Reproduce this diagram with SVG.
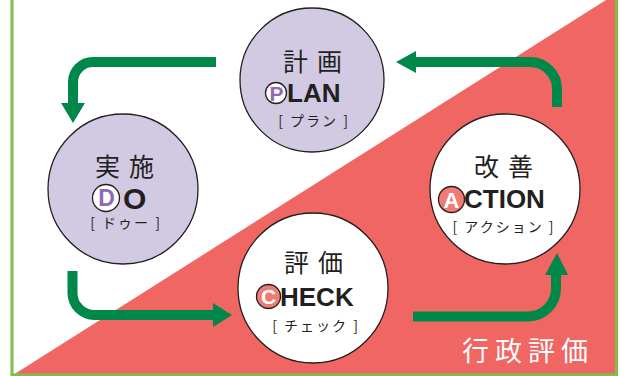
<svg xmlns="http://www.w3.org/2000/svg" width="625" height="376" viewBox="0 0 625 376">
<style>
.node{stroke:#231F20;stroke-width:1.3}
.lav{fill:#D2C9E3}
.wht{fill:#FFFFFF}
.jp{font-family:"Noto Sans CJK JP","Noto Sans",sans-serif;fill:#231F20;text-anchor:middle}
.kanji{font-size:25px;letter-spacing:9px}
.kana{font-size:14px;letter-spacing:2px}
.en{font-family:"Liberation Sans",Arial,sans-serif;font-weight:bold;fill:#231F20;font-size:26px}
.bl{font-family:"Liberation Sans",Arial,sans-serif;font-weight:900;text-anchor:middle}
.badge{stroke:#231F20;stroke-width:1.3}
.conn{fill:none;stroke:#00884A;stroke-width:10}
.head{fill:#00884A}
</style>
<rect x="0" y="0" width="625" height="376" fill="#FFFFFF"/>
<polygon points="606,0 617,0 617,375 13,375" fill="#F06663"/>
<g id="border" fill="none" stroke="#7DC04A" stroke-width="3">
<line x1="12" y1="0" x2="12" y2="375"/>
<line x1="10.5" y1="375" x2="618" y2="375"/>
<line x1="616.5" y1="0" x2="616.5" y2="376"/>
</g>
<g id="connectors">
<path class="conn" d="M216,62 H93 A20,20 0 0 0 73,82 V104"/>
<polygon class="head" points="61,103 85,103 73,123"/>
<path class="conn" d="M557,107 V89 A27,27 0 0 0 530,62 H415"/>
<polygon class="head" points="416,51 416,73 396,62"/>
<path class="conn" d="M72.5,271 V293 A22,22 0 0 0 94.5,315 H214"/>
<polygon class="head" points="213,303 213,327 232,315"/>
<path class="conn" d="M413,316.5 H528 A28,28 0 0 0 556,288.5 V274"/>
<polygon class="head" points="545,275 568,275 557,253"/>
</g>
<g id="plan">
<circle class="node lav" cx="312" cy="80" r="72"/>
<text class="jp kanji" x="317" y="71">計画</text>
<circle class="badge wht" cx="276" cy="93" r="10.5"/>
<text class="bl" x="276.5" y="100.5" style="font-size:21px;fill:#8E6BB5">P</text>
<text class="en" x="287" y="102">LAN</text>
<text class="jp kana" x="314" y="126">[ プラン ]</text>
</g>
<g id="do">
<circle class="node lav" cx="123" cy="189" r="75"/>
<text class="jp kanji" x="129" y="176">実施</text>
<circle class="badge wht" cx="106" cy="198" r="13.5"/>
<text class="bl" x="106.5" y="206" style="font-size:23px;fill:#8E6BB5">D</text>
<text class="en" x="123" y="209" style="font-size:30px">O</text>
<text class="jp kana" x="126" y="228">[ ドゥー ]</text>
</g>
<g id="check">
<circle class="node wht" cx="313" cy="288" r="75"/>
<text class="jp kanji" x="318" y="272">評価</text>
<circle class="badge" cx="268.5" cy="296.5" r="12" fill="#F07B72"/>
<text class="bl" x="268.5" y="304" style="font-size:21px;fill:#FFFFFF">C</text>
<text class="en" x="280" y="306">HECK</text>
<text class="jp kana" x="316" y="331">[ チェック ]</text>
</g>
<g id="action">
<circle class="node wht" cx="505" cy="189" r="75"/>
<text class="jp kanji" x="508" y="176">改善</text>
<circle class="badge" cx="451.5" cy="199.5" r="13" fill="#F07B72"/>
<text class="bl" x="451.5" y="207.5" style="font-size:22px;fill:#FFFFFF">A</text>
<text class="en" x="464" y="208">CTION</text>
<text class="jp kana" x="504" y="232">[ アクション ]</text>
</g>
<text id="label" x="462" y="361" style="font-family:'Noto Sans CJK JP',sans-serif;font-size:27px;fill:#FFFFFF;letter-spacing:6px">行政評価</text>
</svg>
